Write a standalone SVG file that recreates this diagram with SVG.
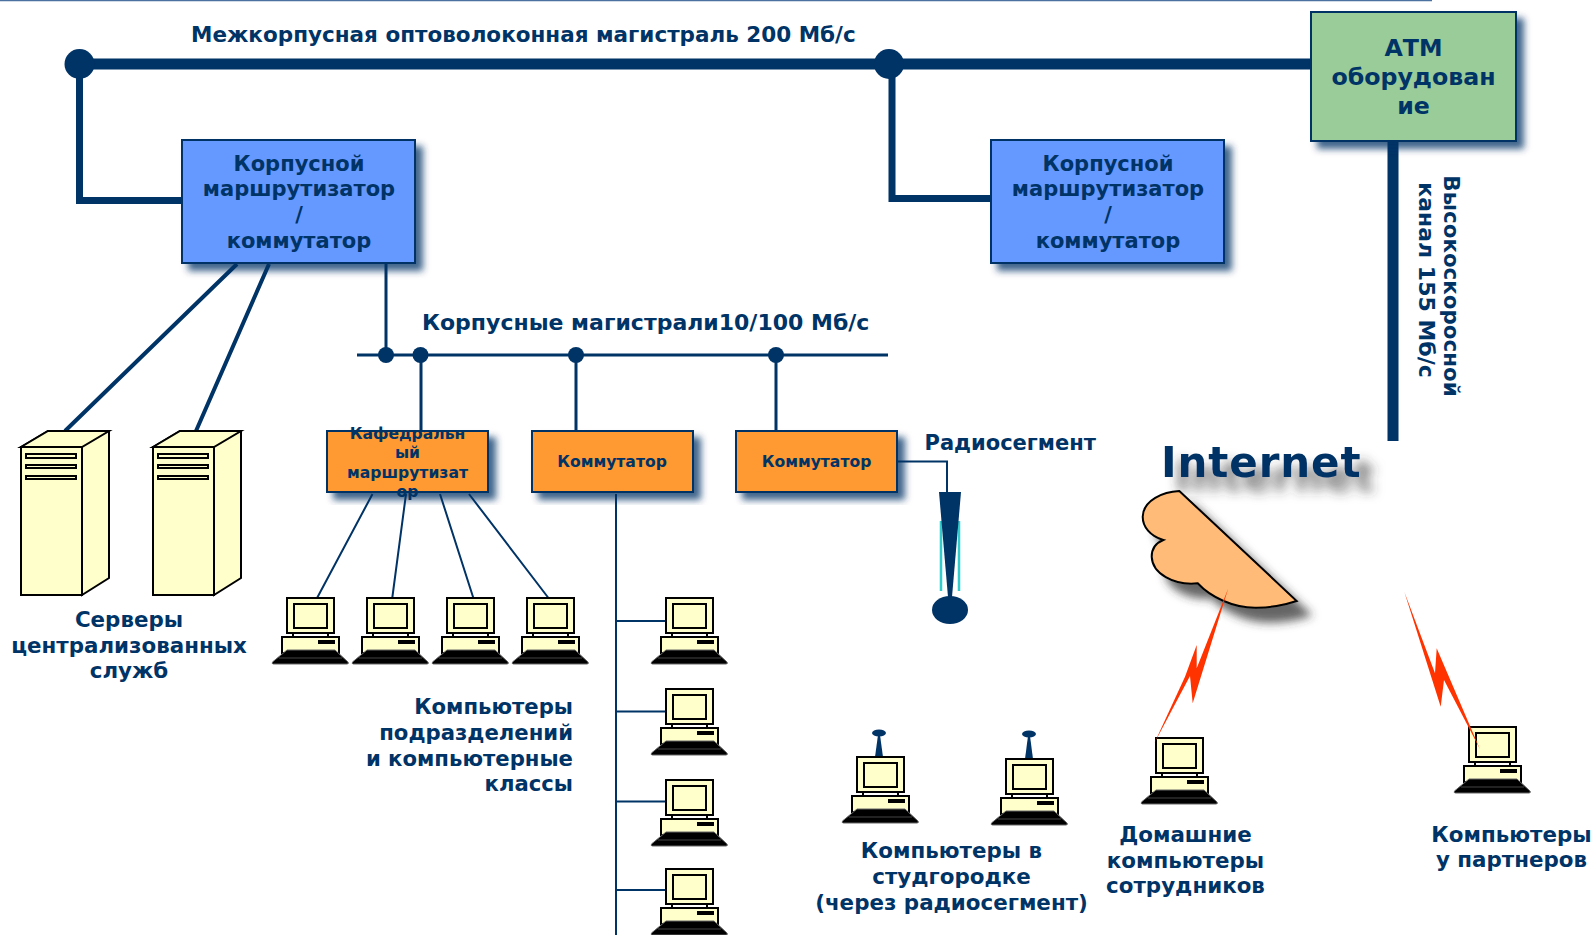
<svg xmlns="http://www.w3.org/2000/svg" width="1594" height="935" viewBox="0 0 1594 935">
<style>
text{font-family:"DejaVu Sans","Liberation Sans",sans-serif;font-weight:700;fill:#003366}
.l{font-size:21.4px;text-anchor:middle}
.e{text-anchor:end}
.b{font-size:21px;text-anchor:middle}
.a{font-size:23.700px;text-anchor:middle}
.o{font-size:15.600px;text-anchor:middle}
.r{font-size:22px;text-anchor:middle}
.box{stroke:#003366;stroke-width:2;filter:url(#sh)}
.c{fill:none;stroke:#003366}
.blue{fill:#6699ff}.orange{fill:#ff9933}.green{fill:#99cc99}
.cr{fill:#ffffcc;stroke:#000;stroke-width:2}
.bolt{fill:#ff3300}
.navy{fill:#003366}
</style>
<defs>
<filter id="sh" x="-15%" y="-15%" width="135%" height="135%"><feDropShadow dx="7" dy="7" stdDeviation="3.500" flood-color="#003366" flood-opacity="0.75"/></filter>
<filter id="gs" x="-20%" y="-30%" width="150%" height="170%"><feDropShadow dx="14" dy="14" stdDeviation="5" flood-color="#333" flood-opacity="0.75"/></filter>
<filter id="gt" x="-10%" y="-30%" width="125%" height="200%"><feDropShadow dx="14" dy="14" stdDeviation="6" flood-color="#333" flood-opacity="0.7"/></filter>
<symbol id="pc" overflow="visible" width="47" height="66">
<path class="cr" d="M6 34v6M41 34v6"/>
<rect class="cr" x="-5" y="39" width="57" height="16"/>
<rect x="31" y="42" width="17" height="4"/>
<rect class="cr" x="0" y="0" width="47" height="35"/>
<rect class="cr" x="7" y="6" width="33" height="24"/>
<path d="M-14.500 64L0 52H48L61 64Q62 66 60 66H-13.500Q-15.500 66-14.500 64Z" stroke="#666" stroke-width="1"/>
<path d="M-8 60H55" stroke="#444" stroke-width="1"/>
</symbol>
<symbol id="srv" overflow="visible" width="88" height="164">
<path class="cr" d="M0 16L27 0H88V147L61 164V16Z"/>
<path class="cr" d="M0 16L27 0H88L61 16Z"/>
<rect class="cr" x="0" y="16" width="61" height="148"/>
<rect class="cr" x="5" y="23" width="50" height="4"/>
<rect class="cr" x="5" y="34" width="50" height="3"/>
<rect class="cr" x="5" y="45" width="50" height="3"/>
</symbol>
</defs>
<rect width="1594" height="935" fill="#fff"/>
<path d="M0 .5H1432" stroke="#4a719f" stroke-width="1.500"/>

<g id="connectors">
<path class="c" stroke-width="11" d="M79 64H1310"/>
<path class="c" stroke-width="7" d="M79.500 64V200.500H182M892 64V198.500H992"/>
<path class="c" stroke-width="11" d="M1393 141V441"/>
<circle cx="79.500" cy="64" r="15" class="navy"/>
<circle cx="889" cy="64" r="15" class="navy"/>
<path class="c" stroke-width="4" d="M237 264L65 431M269 264L196 431"/>
<path class="c" stroke-width="3" d="M386 264V355M357 355H888M421 355V431M576 355V431M776 355V431"/>
<g class="navy"><circle cx="386" cy="355" r="8"/><circle cx="420.500" cy="355" r="8"/><circle cx="576" cy="355" r="8"/><circle cx="776" cy="355" r="8"/></g>
<path class="c" stroke-width="2" d="M372.500 494L316 600M406 494L392 600M440 494L474 600M469 494L550 600M616 494V935M616 621H667M616 711.500H667M616 801.500H667M616 890H667M893 461.500H947V492"/>
</g>

<g id="bldg-router-1"><rect class="box blue" x="182" y="140" width="233" height="123"/>
<text class="b" x="299" y="171">Корпусной</text><text class="b" x="299" y="196">маршрутизатор</text><text class="b" x="299" y="222">/</text><text class="b" x="299" y="248">коммутатор</text></g>
<g id="bldg-router-2"><rect class="box blue" x="991" y="140" width="233" height="123"/>
<text class="b" x="1108" y="171">Корпусной</text><text class="b" x="1108" y="196">маршрутизатор</text><text class="b" x="1108" y="222">/</text><text class="b" x="1108" y="248">коммутатор</text></g>
<g id="atm"><rect class="box green" x="1311" y="12" width="205" height="129"/>
<text class="a" x="1413.500" y="56">АТМ</text><text class="a" x="1413.500" y="85">оборудован</text><text class="a" x="1413.500" y="114">ие</text></g>
<g id="dept-router"><rect class="box orange" x="327" y="431" width="161" height="61"/>
<text class="o" x="407.500" y="439">Кафедральн</text><text class="o" x="407.500" y="458">ый</text><text class="o" x="407.500" y="478">маршрутизат</text><text class="o" x="407.500" y="497">ор</text></g>
<g id="switch-1"><rect class="box orange" x="532" y="431" width="161" height="61"/>
<text class="o" x="612" y="467">Коммутатор</text></g>
<g id="switch-2"><rect class="box orange" x="736" y="431" width="161" height="61"/>
<text class="o" x="816.500" y="467">Коммутатор</text></g>

<g id="servers"><use href="#srv" x="21" y="431"/><use href="#srv" x="153" y="431"/>
<text class="l" x="129" y="627">Серверы</text><text class="l" x="129" y="653">централизованных</text><text class="l" x="129" y="678">служб</text></g>

<g id="dept-computers">
<use href="#pc" x="287" y="598"/><use href="#pc" x="367" y="598"/><use href="#pc" x="447" y="598"/><use href="#pc" x="527" y="598"/>
<use href="#pc" x="666" y="598"/><use href="#pc" x="666" y="689"/><use href="#pc" x="666" y="780"/><use href="#pc" x="666" y="869"/>
<g style="font-size:21.2px"><text class="e" x="573" y="714">Компьютеры</text><text class="e" x="573" y="740">подразделений</text><text class="e" x="573" y="766">и компьютерные</text><text class="e" x="573" y="791">классы</text></g>
</g>

<g id="radio-antenna">
<path d="M941 521V591M959 521V591" stroke="#33cccc" stroke-width="2.500"/>
<path d="M939 492H961L952 597H948Z" class="navy"/>
<ellipse cx="950" cy="610" rx="18" ry="14" class="navy"/>
</g>

<g id="campus-computers">
<path d="M878 735H880L883 757H875Z" class="navy"/><ellipse cx="879" cy="733" rx="7" ry="3.500" class="navy"/>
<path d="M1028 736H1030L1033 759H1025Z" class="navy"/><ellipse cx="1029" cy="734" rx="7" ry="3.500" class="navy"/>
<use href="#pc" x="857" y="757"/><use href="#pc" x="1006" y="759"/>
<text class="l" x="951.500" y="858">Компьютеры в</text><text class="l" x="951.500" y="884">студгородке</text><text class="l" x="951.500" y="910">(через радиосегмент)</text>
</g>

<g id="internet">
<text style="font-size:42px;letter-spacing:.9px" x="1161" y="477" filter="url(#gt)">Internet</text>
<path filter="url(#gs)" d="M1179.300 491L1296.700 601C1286.700 604.300 1271.700 607.700 1256.700 607.700C1233.300 608.300 1210 596.700 1197.700 583.300C1173.300 585.700 1152.300 573.300 1151.700 556.700C1151.700 550 1155 543.300 1163.300 540C1150 536 1142.700 526.700 1142.700 516.700C1143.300 500 1163.300 491.700 1179.300 491Z" fill="#ffbb77" stroke="#000" stroke-width="2"/>
</g>

<g id="home-computer">
<use href="#pc" x="1156" y="738"/>
<path class="bolt" d="M1228.300 588.300L1192.700 703.300L1190 676L1154.300 743.300L1185 676.700L1196.700 645V668.300Z"/>
<text class="l" x="1185.500" y="842">Домашние</text><text class="l" x="1185.500" y="868">компьютеры</text><text class="l" x="1185.500" y="893">сотрудников</text>
</g>
<g id="partner-computer">
<use href="#pc" x="1469" y="727"/>
<path class="bolt" d="M1404.300 591.700L1440.700 706.700L1444 680L1480 749.300L1436.700 648.300L1435 673.300Z"/>
<text class="l" x="1511.500" y="842">Компьютеры</text><text class="l" x="1511.500" y="867">у партнеров</text>
</g>

<g id="labels">
<text style="font-size:21.500px" x="191" y="41.500">Межкорпусная оптоволоконная магистраль 200 Мб/с</text>
<text style="font-size:22px" x="422" y="330">Корпусные магистрали10/100 Мб/с</text>
<text style="font-size:21px" x="924.500" y="450">Радиосегмент</text>
<text class="l" transform="translate(1444 286) rotate(90)">Высокоскоросной</text>
<text class="r" transform="translate(1419 280) rotate(90)">канал 155 Мб/с</text>
</g>
</svg>
